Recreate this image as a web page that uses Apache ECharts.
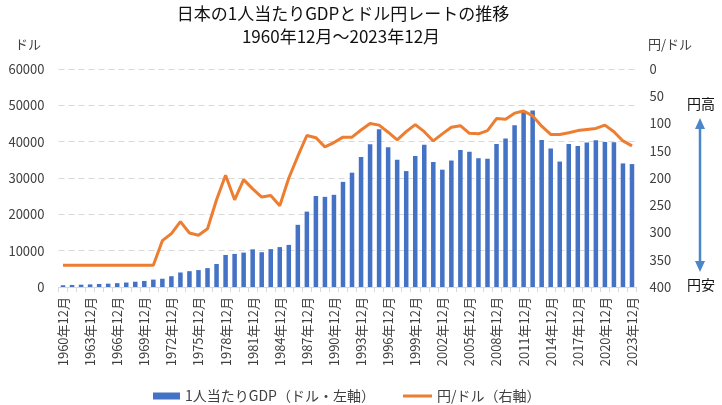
<!DOCTYPE html>
<html>
<head>
<meta charset="utf-8">
<script src="https://cdn.jsdelivr.net/npm/echarts@6/dist/echarts.min.js"></script>
<style>html,body{margin:0;padding:0;background:#fff;}#c{width:722px;height:405px;}</style>
</head>
<body>
<div id="c"></div>
<script>
const categories = ['1960年12月','1961年12月','1962年12月','1963年12月','1964年12月','1965年12月','1966年12月','1967年12月','1968年12月','1969年12月',
'1970年12月','1971年12月','1972年12月','1973年12月','1974年12月','1975年12月','1976年12月','1977年12月','1978年12月','1979年12月',
'1980年12月','1981年12月','1982年12月','1983年12月','1984年12月','1985年12月','1986年12月','1987年12月','1988年12月','1989年12月',
'1990年12月','1991年12月','1992年12月','1993年12月','1994年12月','1995年12月','1996年12月','1997年12月','1998年12月','1999年12月',
'2000年12月','2001年12月','2002年12月','2003年12月','2004年12月','2005年12月','2006年12月','2007年12月','2008年12月','2009年12月',
'2010年12月','2011年12月','2012年12月','2013年12月','2014年12月','2015年12月','2016年12月','2017年12月','2018年12月','2019年12月',
'2020年12月','2021年12月','2022年12月','2023年12月'];

const gdpPerCapita = [479,564,634,717,836,919,1058,1228,1450,1669,
2037,2272,2967,3997,4354,4659,5197,6335,8821,9105,
9463,10361,9578,10425,10984,11585,17112,20745,25052,24813,
25371,28925,31465,35766,39269,43429,38437,35022,31903,36027,
39169,34406,32289,34808,37688,37218,35434,35275,39339,40855,
44508,48168,48603,40454,38109,34524,39375,38834,39751,40416,
39918,39827,34017,33834];

const yenPerDollar = [360,360,360,360,360,360,360,360,360,360,
360,315,302,280,301,305,293,240,195,240,
203,220,235,232,251,200,160,122,126,143,
135,125,125,112,100,103,116,130,115,102,
115,132,119,107,104,118,119,113,91,92,
81,77,86,105,120,120,117,113,111,109,
103,115,132,141];

const leftTicks = [0,10000,20000,30000,40000,50000,60000];
const rightTicks = [0,50,100,150,200,250,300,350,400];

const FONT = '"Noto Sans CJK JP", "Noto Sans", sans-serif';
const TXT = '#404040';

const chart = echarts.init(document.getElementById('c'), null, {renderer:'canvas'});
chart.setOption({
  animation: false,
  backgroundColor: '#fff',
  textStyle: {fontFamily: FONT},
  grid: {left: 58.5, right: 85.5, top: 69, bottom: 118, containLabel: false},
  legend: [
    {data: [{name: '1人当たりGDP（ドル・左軸）', icon: 'rect'}], left: 148, top: 384,
     itemWidth: 27, itemHeight: 7, textStyle: {fontSize: 14, color: TXT, fontFamily: FONT}},
    {data: [{name: '円/ドル（右軸）', icon: 'rect'}], left: 398, top: 384,
     itemWidth: 29, itemHeight: 3, textStyle: {fontSize: 14, color: TXT, fontFamily: FONT}}
  ],
  xAxis: {
    type: 'category', data: categories, boundaryGap: true,
    axisLine: {lineStyle: {color: '#d9d9d9', width: 1}},
    axisTick: {show: true, alignWithLabel: false, interval: 0, length: 5, lineStyle: {color: '#d9d9d9'}},
    axisLabel: {interval: 2, rotate: 90, fontSize: 13, color: TXT, margin: 10, fontFamily: FONT},
    splitLine: {show: false}
  },
  yAxis: [
    {type: 'value', min: leftTicks[0], max: leftTicks[leftTicks.length-1], interval: 10000,
     axisLine: {show: false}, axisTick: {show: false},
     axisLabel: {fontSize: 13, color: TXT, margin: 14, fontFamily: FONT, formatter: v => String(v)},
     splitLine: {show: true, lineStyle: {color: '#d9d9d9', type: [6, 4], width: 1}}},
    {type: 'value', inverse: true, min: rightTicks[0], max: rightTicks[rightTicks.length-1], interval: 50,
     position: 'right',
     axisLine: {show: false}, axisTick: {show: false},
     axisLabel: {fontSize: 13, color: TXT, margin: 13, fontFamily: FONT, formatter: v => String(v)},
     splitLine: {show: false}}
  ],
  series: [
    {name: '1人当たりGDP（ドル・左軸）', type: 'bar', data: gdpPerCapita, yAxisIndex: 0,
     barWidth: '50%', itemStyle: {color: '#4472C4'}},
    {name: '円/ドル（右軸）', type: 'line', data: yenPerDollar, yAxisIndex: 1,
     symbol: 'none', showSymbol: false, smooth: false,
     lineStyle: {color: '#ED7D31', width: 3}, itemStyle: {color: '#ED7D31'}}
  ],
  graphic: [
    {type: 'text', x: 343, y: 14, style: {text: '日本の1人当たりGDPとドル円レートの推移', font: '17px ' + FONT, fill: '#111', align: 'center', verticalAlign: 'middle'}},
    {type: 'text', x: 341, y: 37, style: {text: '1960年12月～2023年12月', font: '17px ' + FONT, fill: '#111', align: 'center', verticalAlign: 'middle'}},
    {type: 'text', x: 15, y: 44, style: {text: 'ドル', font: '13px ' + FONT, fill: TXT, align: 'left', verticalAlign: 'middle'}},
    {type: 'text', x: 648, y: 44, style: {text: '円/ドル', font: '13px ' + FONT, fill: TXT, align: 'left', verticalAlign: 'middle'}},
    {type: 'text', x: 687, y: 104, style: {text: '円高', font: '14px ' + FONT, fill: '#111', align: 'left', verticalAlign: 'middle'}},
    {type: 'text', x: 687, y: 285, style: {text: '円安', font: '14px ' + FONT, fill: '#111', align: 'left', verticalAlign: 'middle'}},
    {type: 'line', shape: {x1: 700, y1: 126, x2: 700, y2: 264}, style: {stroke: '#4A86C8', lineWidth: 2.5}},
    {type: 'polygon', shape: {points: [[700, 118], [695, 129], [705, 129]]}, style: {fill: '#4A86C8'}},
    {type: 'polygon', shape: {points: [[700, 272], [695, 261], [705, 261]]}, style: {fill: '#4A86C8'}}
  ]
});
</script>
</body>
</html>
